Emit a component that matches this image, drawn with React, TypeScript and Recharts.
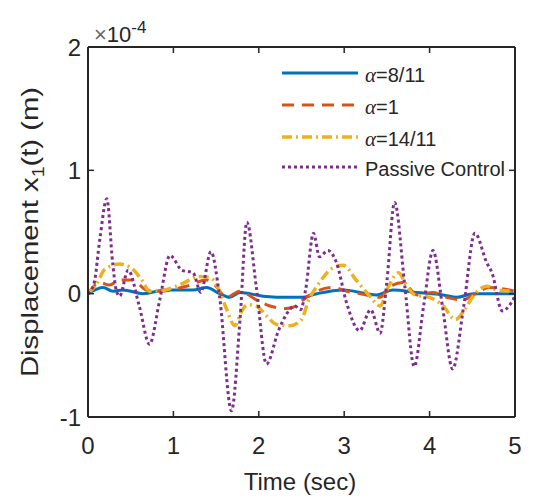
import React from 'react';
import { LineChart, Line, XAxis, YAxis, Legend } from 'recharts';

// Time ticks (sec) and displacement ticks (x 1e-4 m)
const timeTicks = [0, 1, 2, 3, 4, 5];
const dispTicks = [-1, 0, 1, 2];
const seriesNames = ['8/11', '1', '14/11', 'Passive Control'];

// alpha = 8/11 (displacement in 1e-4 m)
const a811T = [0, 0.18, 0.29, 0.41, 0.64, 0.92, 1.23, 1.39, 1.54, 1.66, 1.78, 2.05, 2.36, 2.5, 2.68, 2.99, 3.38, 3.57, 3.85, 4.16, 4.32, 4.51, 5.0];
const a811V = [0, 0.05, 0.02, 0.03, 0, 0.03, 0.03, 0.05, 0, -0.03, 0.01, -0.02, -0.03, -0.03, 0, 0.03, -0.01, 0.03, 0.01, -0.01, -0.03, 0, 0];

// alpha = 1
const a1T = [0, 0.14, 0.25, 0.37, 0.53, 0.68, 0.84, 1.15, 1.39, 1.5, 1.62, 1.78, 1.97, 2.13, 2.32, 2.4, 2.52, 2.68, 2.87, 3.03, 3.26, 3.42, 3.54, 3.69, 3.85, 4.04, 4.2, 4.39, 4.51, 4.7, 5.0];
const a1V = [0, 0.09, 0.07, 0.11, 0.11, 0.03, 0.02, 0.06, 0.11, 0.06, -0.03, 0.02, -0.05, -0.1, -0.12, -0.11, -0.05, 0.02, 0.05, 0.02, -0.01, -0.03, 0.06, 0.09, -0.01, 0.01, -0.03, -0.05, -0.01, 0.05, 0.02];

// alpha = 14/11
const a1411T = [0, 0.1, 0.2, 0.37, 0.52, 0.63, 0.72, 0.9, 1.1, 1.3, 1.43, 1.52, 1.62, 1.72, 1.8, 1.87, 1.97, 2.09, 2.21, 2.36, 2.5, 2.58, 2.7, 2.87, 2.99, 3.14, 3.3, 3.42, 3.52, 3.64, 3.71, 3.83, 4.0, 4.16, 4.3, 4.41, 4.51, 4.67, 4.79, 5.0];
const a1411V = [0, 0.08, 0.2, 0.24, 0.2, 0.11, 0.02, 0.03, 0.08, 0.14, 0.13, 0.05, -0.12, -0.26, -0.14, -0.09, -0.1, -0.18, -0.25, -0.26, -0.21, -0.06, 0.08, 0.21, 0.23, 0.11, -0.02, -0.1, 0.06, 0.17, 0.09, -0.01, -0.03, -0.1, -0.21, -0.13, -0.02, 0.06, 0.03, 0.02];

// Passive control
const passiveT = [0, 0.07, 0.14, 0.22, 0.29, 0.33, 0.37, 0.47, 0.6, 0.72, 0.84, 0.96, 1.1, 1.23, 1.32, 1.44, 1.54, 1.68, 1.78, 1.86, 1.97, 2.09, 2.23, 2.33, 2.42, 2.49, 2.55, 2.64, 2.71, 2.81, 2.91, 3.03, 3.18, 3.31, 3.42, 3.5, 3.59, 3.71, 3.82, 3.93, 4.04, 4.15, 4.27, 4.4, 4.53, 4.67, 4.73, 4.85, 4.95, 5.0];
const passiveV = [0, 0.08, 0.45, 0.77, 0.24, 0.03, -0.02, 0.19, -0.1, -0.41, -0.05, 0.31, 0.19, 0.17, 0.01, 0.34, -0.02, -0.95, -0.21, 0.58, 0.06, -0.57, -0.3, -0.16, -0.1, -0.13, 0.04, 0.49, 0.3, 0.35, 0.25, -0.08, -0.3, -0.13, -0.32, 0.1, 0.74, 0.06, -0.59, -0.1, 0.35, -0.1, -0.61, -0.1, 0.49, 0.25, 0.17, -0.14, -0.08, -0.02];

const toPoints = (ts: number[], vs: number[]) => ts.map((t, i) => ({ t, v: vs[i] }));

const COLORS = ['#0072BD', '#D95319', '#EDB120', '#7E2F8E'];
const DASHES = ['', '12 8', '10 4 2 4', '3 3'];
const WIDTHS = [3, 3, 3.5, 3];
const seriesData = [
  toPoints(a811T, a811V),
  toPoints(a1T, a1V),
  toPoints(a1411T, a1411V),
  toPoints(passiveT, passiveV),
];

const FONT = "'Liberation Sans', Arial, sans-serif";
const INK = '#262626';

const LegendBox = () => (
  <svg width={260} height={125} style={{ display: 'block', overflow: 'visible' }}>
    {seriesNames.map((name, i) => {
      const y = [17, 49, 81, 111][i];
      return (
        <g key={name}>
          <line x1={4} x2={80} y1={y} y2={y} stroke={COLORS[i]} strokeWidth={WIDTHS[i]} strokeDasharray={DASHES[i] || undefined} />
          <text x={87} y={y + 2} dominantBaseline="central" fontFamily={FONT} fontSize={20} fill={INK}>
            {i < 3 ? (
              <>
                <tspan fontFamily="'Liberation Serif', serif" fontStyle="italic" fontSize={21}>α</tspan>
                <tspan>={name}</tspan>
              </>
            ) : (
              name
            )}
          </text>
        </g>
      );
    })}
  </svg>
);

const XTitle = () => (
  <text x={292} y={482} textAnchor="middle" fontFamily={FONT} fontSize={24} fill={INK}>
    Time (sec)
  </text>
);

const YTitle = () => (
  <g>
    <text
      x={30}
      y={224}
      transform="rotate(-90 30 224)"
      textAnchor="middle"
      fontFamily={FONT}
      fontSize={24}
      fill={INK}
      textLength={290}
      lengthAdjust="spacingAndGlyphs"
    >
      <tspan>Displacement x</tspan>
      <tspan fontSize={16} dy={6}>1</tspan>
      <tspan dy={-6}>(t) (m)</tspan>
    </text>
    <text x={86} y={34} fontFamily={FONT} fontSize={22} fill={INK}>
      <tspan fill="#666">×</tspan>
      <tspan>10</tspan>
      <tspan fontSize={17} dy={-9}>-4</tspan>
    </text>
  </g>
);

export default function App() {
  return (
    <div style={{ width: 542, height: 492 }}>
      <LineChart width={542} height={492} margin={{ top: 38, right: 34, bottom: 0, left: 40 }}>
        <XAxis
          xAxisId="bottom"
          dataKey="t"
          type="number"
          domain={[0, 5]}
          ticks={timeTicks}
          allowDataOverflow
          height={83}
          tickSize={-6}
          tickMargin={26}
          axisLine={{ stroke: INK, strokeWidth: 2 }}
          tickLine={{ stroke: INK, strokeWidth: 1.5 }}
          tick={{ fill: INK, fontSize: 24, fontFamily: FONT }}
          label={<XTitle />}
        />
        <XAxis
          xAxisId="top"
          orientation="top"
          dataKey="t"
          type="number"
          domain={[0, 5]}
          ticks={timeTicks}
          allowDataOverflow
          height={1}
          tickSize={-6}
          tickFormatter={() => ''}
          axisLine={{ stroke: INK, strokeWidth: 2 }}
          tickLine={{ stroke: INK, strokeWidth: 1.5 }}
        />
        <YAxis
          yAxisId="left"
          type="number"
          domain={[-1, 2]}
          ticks={dispTicks}
          allowDataOverflow
          width={40}
          tickSize={-6}
          tickMargin={13}
          axisLine={{ stroke: INK, strokeWidth: 2 }}
          tickLine={{ stroke: INK, strokeWidth: 1.5 }}
          tick={{ fill: INK, fontSize: 24, fontFamily: FONT }}
          label={<YTitle />}
        />
        <YAxis
          yAxisId="right"
          orientation="right"
          type="number"
          domain={[-1, 2]}
          ticks={dispTicks}
          allowDataOverflow
          width={1}
          tickSize={-6}
          tickFormatter={() => ''}
          axisLine={{ stroke: INK, strokeWidth: 2 }}
          tickLine={{ stroke: INK, strokeWidth: 1.5 }}
        />
        <Legend
          layout="vertical"
          align="center"
          verticalAlign="middle"
          content={() => <LegendBox />}
          wrapperStyle={{ position: 'absolute', left: 270, top: 48, width: 260, height: 125 }}
        />
        {seriesData.map((d, i) => (
          <Line
            key={seriesNames[i]}
            name={seriesNames[i]}
            data={d}
            dataKey="v"
            xAxisId="bottom"
            yAxisId="left"
            type="monotone"
            stroke={COLORS[i]}
            strokeWidth={WIDTHS[i]}
            strokeDasharray={DASHES[i] || undefined}
            dot={false}
            activeDot={false}
            isAnimationActive={false}
          />
        ))}
      </LineChart>
    </div>
  );
}
